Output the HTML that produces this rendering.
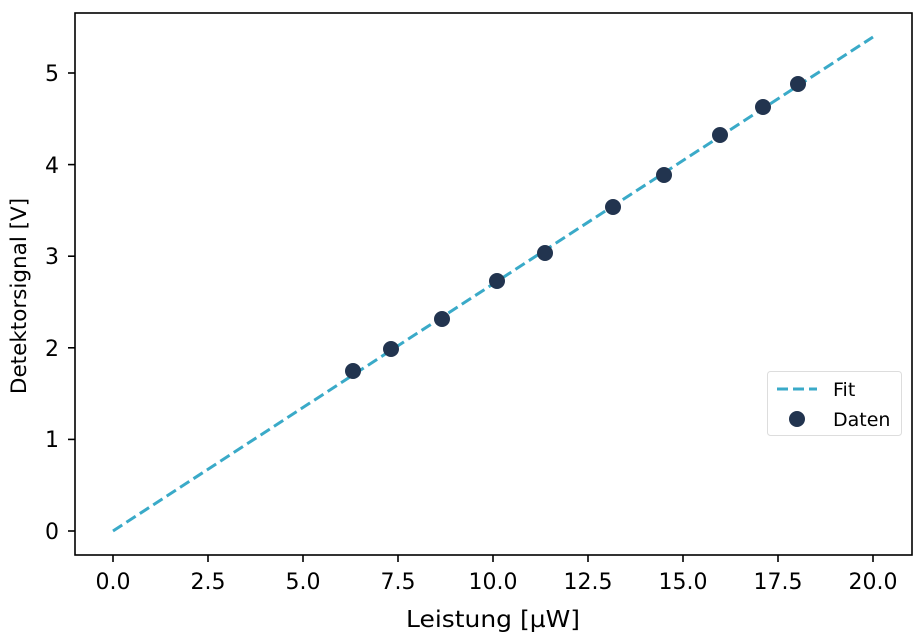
<!DOCTYPE html>
<html><head><meta charset="utf-8"><style>body{margin:0;background:#fff}svg{display:block}text{font-family:"DejaVu Sans","Liberation Sans",sans-serif;fill:#000}</style></head><body>
<svg width="919" height="639" xmlns="http://www.w3.org/2000/svg">
<line x1="113" y1="531" x2="873" y2="37" stroke="#3aaac8" stroke-width="3" stroke-dasharray="11,5"/>
<g fill="#22344f">
<circle cx="353" cy="371" r="8"/><circle cx="391" cy="349" r="8"/><circle cx="442" cy="319" r="8"/><circle cx="497" cy="281" r="8"/><circle cx="545" cy="253" r="8"/><circle cx="613" cy="207" r="8"/><circle cx="664" cy="175" r="8"/><circle cx="720" cy="135" r="8"/><circle cx="763" cy="107" r="8"/><circle cx="798" cy="84" r="8"/>
</g>
<rect x="75" y="13" width="837" height="542" fill="none" stroke="#000" stroke-width="1.6"/>
<g stroke="#000" stroke-width="1.6">
<line x1="113" y1="555" x2="113" y2="562"/><line x1="208" y1="555" x2="208" y2="562"/><line x1="303" y1="555" x2="303" y2="562"/><line x1="398" y1="555" x2="398" y2="562"/><line x1="493" y1="555" x2="493" y2="562"/><line x1="588" y1="555" x2="588" y2="562"/><line x1="683" y1="555" x2="683" y2="562"/><line x1="778" y1="555" x2="778" y2="562"/><line x1="873" y1="555" x2="873" y2="562"/>
<line x1="68" y1="531" x2="75" y2="531"/><line x1="68" y1="439.4" x2="75" y2="439.4"/><line x1="68" y1="347.8" x2="75" y2="347.8"/><line x1="68" y1="256.2" x2="75" y2="256.2"/><line x1="68" y1="164.6" x2="75" y2="164.6"/><line x1="68" y1="73" x2="75" y2="73"/>
</g>
<g font-size="22" text-anchor="middle">
<text x="113" y="589">0.0</text><text x="208" y="589">2.5</text><text x="303" y="589">5.0</text><text x="398" y="589">7.5</text><text x="493" y="589">10.0</text><text x="588" y="589">12.5</text><text x="683" y="589">15.0</text><text x="778" y="589">17.5</text><text x="873" y="589">20.0</text>
</g>
<text x="406" y="627" font-size="23" textLength="174" lengthAdjust="spacingAndGlyphs">Leistung [µW]</text>
<g font-size="22" text-anchor="end">
<text x="59" y="539">0</text><text x="59" y="447">1</text><text x="59" y="356">2</text><text x="59" y="264">3</text><text x="59" y="173">4</text><text x="59" y="81">5</text>
</g>
<text font-size="21.5" text-anchor="middle" transform="translate(26,296) rotate(-90)">Detektorsignal [V]</text>
<rect x="767.5" y="371.5" width="134" height="64" rx="3" fill="#fff" fill-opacity="0.8" stroke="#ddd"/>
<line x1="777" y1="389" x2="817" y2="389" stroke="#3aaac8" stroke-width="3" stroke-dasharray="11,5"/>
<circle cx="797" cy="419" r="8" fill="#22344f"/>
<text x="833" y="396" font-size="19">Fit</text>
<text x="833" y="426" font-size="19">Daten</text>
</svg>
</body></html>
